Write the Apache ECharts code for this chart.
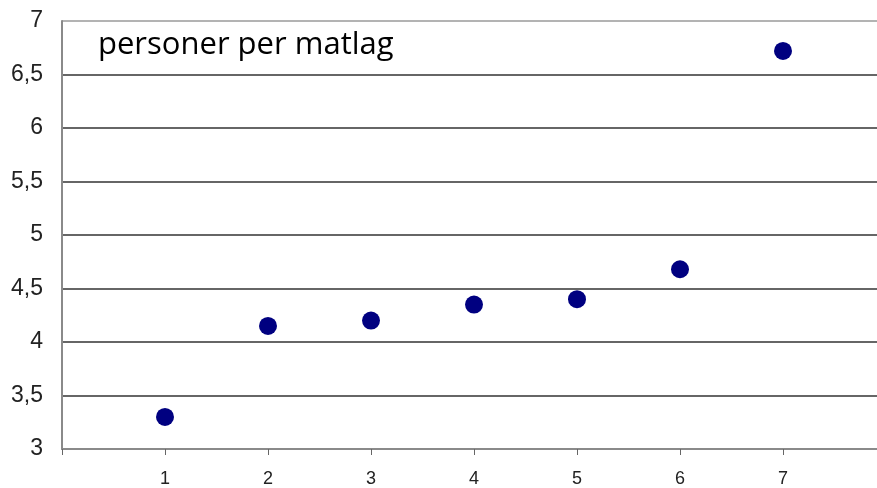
<!DOCTYPE html>
<html>
<head>
<meta charset="utf-8">
<script src="https://cdn.jsdelivr.net/npm/echarts@6/dist/echarts.min.js"></script>
<style>
  html, body { margin: 0; padding: 0; background: #fff; }
  #chart { width: 877px; height: 488px; }
</style>
</head>
<body>
<div id="chart"></div>
<script>
// household size per group (persons per "matlag")
const groups = [1, 2, 3, 4, 5, 6, 7]
const persons = [3.3, 4.15, 4.2, 4.35, 4.4, 4.68, 6.72]
const chartTitle = 'personer per matlag'

const points = groups.map((g, i) => [g, persons[i]])

const chart = echarts.init(document.getElementById('chart'))
const option = {
  animation: false,
  backgroundColor: '#fff',
  title: {
    text: chartTitle,
    left: 93,
    top: 25,
    textStyle: {
      fontFamily: 'Open Sans',
      fontWeight: 'normal',
      fontSize: 31,
      color: '#000'
    }
  },
  grid: {
    left: 62,
    right: -9,
    top: 21,
    bottom: 39,
    outerBoundsMode: 'none'
  },
  xAxis: {
    type: 'value',
    min: 0,
    max: 8,
    interval: 1,
    axisLine: { show: true, onZero: false, lineStyle: { color: '#8a8a8a', width: 2 } },
    axisTick: { show: true, length: 6, lineStyle: { color: '#666' } },
    splitLine: { show: false },
    axisLabel: {
      color: '#222',
      fontFamily: 'Liberation Sans',
      fontSize: 18,
      margin: 21,
      formatter: v => (v >= 1 && v <= 7 ? String(v) : '')
    }
  },
  yAxis: {
    type: 'value',
    min: 3,
    max: 7,
    interval: 0.5,
    axisLine: { show: true, lineStyle: { color: '#8a8a8a', width: 2 } },
    axisTick: { show: false },
    splitLine: {
      show: true,
      lineStyle: {
        color: ['#8a8a8a', '#333', '#333', '#333', '#333', '#333', '#333', '#333', '#9a9a9a'],
        width: 1.5
      }
    },
    axisLabel: {
      color: '#222',
      fontFamily: 'Liberation Sans',
      fontSize: 23,
      margin: 19,
      formatter: v => String(v).replace('.', ',')
    }
  },
  series: [
    {
      type: 'scatter',
      data: points,
      symbol: 'circle',
      symbolSize: 18,
      itemStyle: { color: '#000080', opacity: 1 }
    }
  ]
}
chart.setOption(option)
</script>
</body>
</html>
